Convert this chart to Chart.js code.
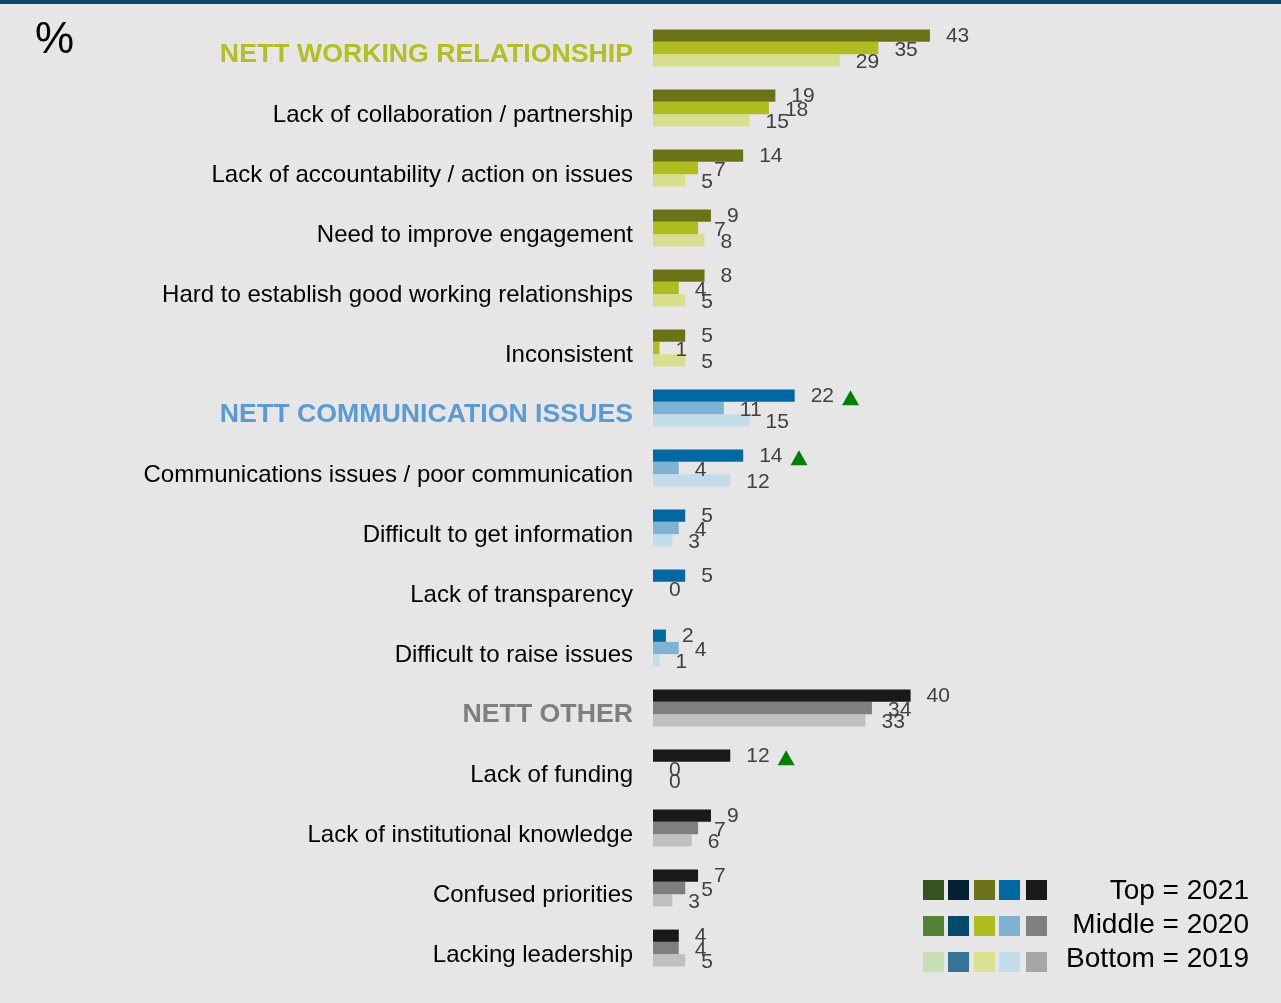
<!DOCTYPE html>
<html>
<head>
<meta charset="utf-8">
<title>Issues with working relationship</title>
<script src="https://cdn.jsdelivr.net/npm/chart.js@4.4.1/dist/chart.umd.min.js"></script>
<style>
  html, body { margin: 0; padding: 0; background: #e6e6e6; }
  #wrap { position: relative; width: 1281px; height: 1003px; border-top: 4px solid #074a6e; box-sizing: border-box; }
  canvas { display: block; }
</style>
</head>
<body>
<div id="wrap"><canvas id="chart" width="1281" height="999"></canvas></div>
<script>
// Categories, top to bottom
const categories = [
  'NETT WORKING RELATIONSHIP',
  'Lack of collaboration / partnership',
  'Lack of accountability / action on issues',
  'Need to improve engagement',
  'Hard to establish good working relationships',
  'Inconsistent',
  'NETT COMMUNICATION ISSUES',
  'Communications issues / poor communication',
  'Difficult to get information',
  'Lack of transparency',
  'Difficult to raise issues',
  'NETT OTHER',
  'Lack of funding',
  'Lack of institutional knowledge',
  'Confused priorities',
  'Lacking leadership'
];

// Theme each category belongs to
const categoryGroups = [
  'work', 'work', 'work', 'work', 'work', 'work',
  'comm', 'comm', 'comm', 'comm', 'comm',
  'other', 'other', 'other', 'other', 'other'
];

// Headline (NETT) rows
const headlineRows = [0, 6, 11];

// Percentages per year
const values2021 = [43, 19, 14, 9, 8, 5, 22, 14, 5, 5, 2, 40, 12, 9, 7, 4];
const values2020 = [35, 18, 7, 7, 4, 1, 11, 4, 4, 0, 4, 34, 0, 7, 5, 4];
const values2019 = [29, 15, 5, 8, 5, 5, 15, 12, 3, null, 1, 33, 0, 6, 3, 5];

// Significant increase in 2021 (green up-triangle)
const significantUp2021 = [false, false, false, false, false, false, true, true, false, false, false, false, true, false, false, false];

// Legend text
const legendLines = ['Top = 2021', 'Middle = 2020', 'Bottom = 2019'];

// Colours
const palette = {
  work:  ['#6b7318', '#b0bd1f', '#d8df8e'],
  comm:  ['#0068a3', '#7fb3d3', '#c3dcea'],
  other: ['#191919', '#7f7f7f', '#bfbfbf']
};
const headlineColors = { work: '#b3bf22', comm: '#5b9bd5', other: '#7f7f7f' };
const legendSwatches = [
  ['#36521f', '#021f33', '#6b7318', '#0068a3', '#191919'],
  ['#528233', '#02496e', '#b0bd1f', '#7fb3d3', '#7f7f7f'],
  ['#c7e0b8', '#367399', '#d9e090', '#c3dcea', '#a6a6a6']
];

const FONT = "'Liberation Sans', Arial, sans-serif";

function colorsFor(yearIdx) {
  return categoryGroups.map(g => palette[g][yearIdx]);
}

// Value labels and significance markers
const valueLabels = {
  id: 'valueLabels',
  afterDatasetsDraw(chart) {
    const ctx = chart.ctx;
    const dy = [1, 2, 2];
    ctx.save();
    ctx.font = '21px ' + FONT;
    ctx.textAlign = 'left';
    ctx.textBaseline = 'middle';
    chart.data.datasets.forEach((ds, di) => {
      const meta = chart.getDatasetMeta(di);
      meta.data.forEach((el, i) => {
        const v = ds.data[i];
        if (v === null || v === undefined) return;
        const x = el.x + 16;
        const y = el.y + dy[di];
        const txt = String(v);
        ctx.fillStyle = '#404040';
        ctx.fillText(txt, x, y);
        if (di === 0 && significantUp2021[i]) {
          const w = ctx.measureText(txt).width;
          const tx = x + w + 8;
          const ty = y + 1;
          ctx.fillStyle = '#008000';
          ctx.beginPath();
          ctx.moveTo(tx, ty + 7.5);
          ctx.lineTo(tx + 17, ty + 7.5);
          ctx.lineTo(tx + 8.5, ty - 7.5);
          ctx.closePath();
          ctx.fill();
        }
      });
    });
    ctx.restore();
  }
};

// Unit sign and year legend
const decorations = {
  id: 'decorations',
  afterDraw(chart) {
    const ctx = chart.ctx;
    ctx.save();
    ctx.fillStyle = '#000';
    ctx.font = '44px ' + FONT;
    ctx.textAlign = 'left';
    ctx.textBaseline = 'alphabetic';
    ctx.fillText('%', 35, 49);

    const boxX = [923, 948, 974, 999, 1026];
    const rowY = [876, 912, 948];
    legendSwatches.forEach((row, r) => {
      row.forEach((c, k) => {
        ctx.fillStyle = c;
        ctx.fillRect(boxX[k], rowY[r], 21, 20);
      });
    });
    ctx.fillStyle = '#000';
    ctx.font = '28px ' + FONT;
    ctx.textAlign = 'right';
    ctx.textBaseline = 'middle';
    const textY = [887, 921, 955];
    legendLines.forEach((t, r) => ctx.fillText(t, 1249, textY[r]));
    ctx.restore();
  }
};

new Chart(document.getElementById('chart'), {
  type: 'bar',
  data: {
    labels: categories,
    datasets: [
      { label: '2021', data: values2021, backgroundColor: colorsFor(0) },
      { label: '2020', data: values2020, backgroundColor: colorsFor(1) },
      { label: '2019', data: values2019, backgroundColor: colorsFor(2) }
    ]
  },
  options: {
    indexAxis: 'y',
    responsive: false,
    animation: false,
    categoryPercentage: 0.615,
    barPercentage: 1,
    layout: { padding: { top: 14, bottom: 25, left: 0, right: 306 } },
    plugins: {
      legend: { display: false },
      tooltip: { enabled: false },
      title: { display: false }
    },
    scales: {
      x: {
        display: false,
        min: 0,
        max: 50
      },
      y: {
        grid: { display: false, drawTicks: false },
        border: { display: false },
        afterFit(scale) {
          scale.width = 653;
          scale.paddingTop = 0;
          scale.paddingBottom = 0;
        },
        ticks: {
          padding: 20,
          labelOffset: 7,
          color(ctx) {
            const i = ctx.index;
            return headlineRows.includes(i) ? headlineColors[categoryGroups[i]] : '#000';
          },
          font(ctx) {
            const i = ctx.index;
            return headlineRows.includes(i)
              ? { family: FONT, size: 26.7, weight: 'bold' }
              : { family: FONT, size: 24, weight: 'normal' };
          }
        }
      }
    }
  },
  plugins: [valueLabels, decorations]
});
</script>
</body>
</html>
